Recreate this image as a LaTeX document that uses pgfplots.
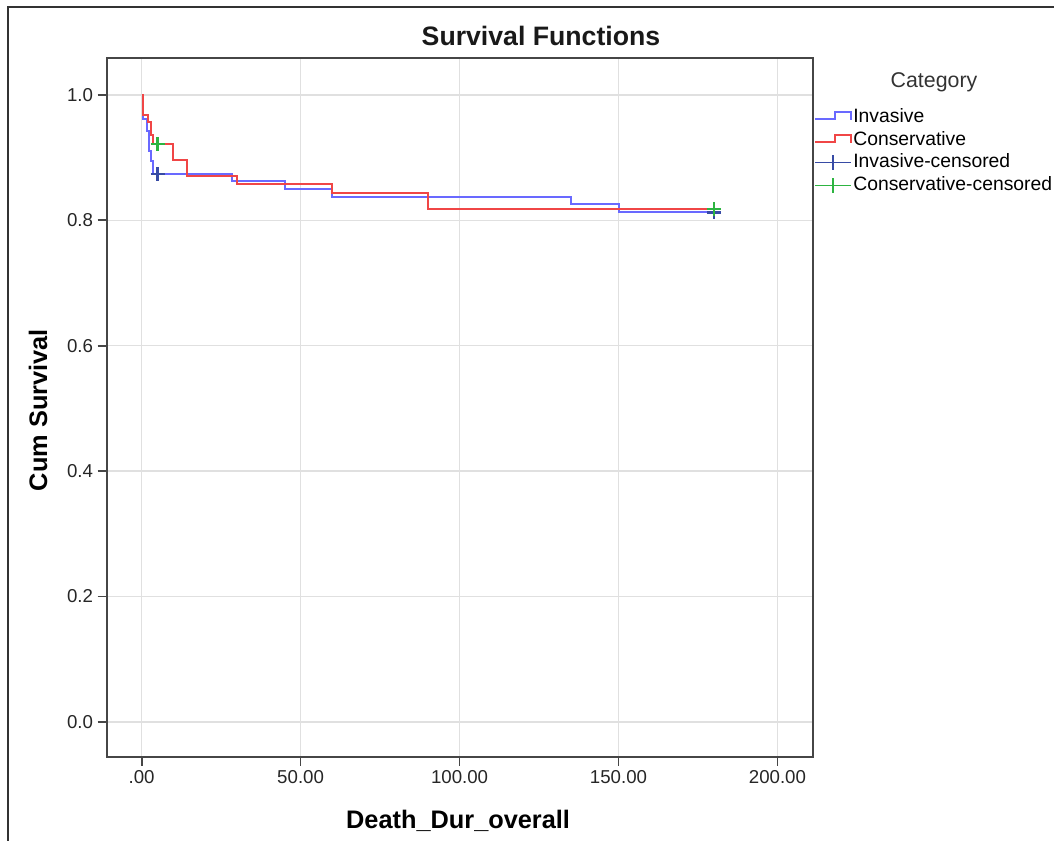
\documentclass[border=0pt]{standalone}
\usepackage{fontspec}
\setmainfont{Liberation Sans}
\usepackage{pgfplots}
\pgfplotsset{compat=1.18}

\definecolor{invline}{RGB}{105,105,255}
\definecolor{conline}{RGB}{240,70,70}
\definecolor{invcens}{RGB}{55,75,165}
\definecolor{concens}{RGB}{45,180,65}
\definecolor{frame}{RGB}{70,70,70}

\begin{document}
\begin{tikzpicture}
\useasboundingbox (-80.25pt,-63.2pt) rectangle (710.25pt,567.5pt);
% outer frame (left and top only, the rest is cut off)
\draw[black!80, line width=1.4pt] (-74.25pt,-63.2pt) -- (-74.25pt,562.3pt) -- (710.25pt,562.3pt);

\begin{axis}[
  at={(0,0)}, anchor=south west,
  scale only axis, width=529.3pt, height=523.8pt,
  xmin=-10.9, xmax=211.1, ymin=-0.0553, ymax=1.0585,
  xtick={0,50,100,150,200},
  xticklabels={.00,50.00,100.00,150.00,200.00},
  ytick={0,0.2,0.4,0.6,0.8,1.0},
  yticklabels={0.0,0.2,0.4,0.6,0.8,1.0},
  tick label style={font=\fontsize{14}{16}\selectfont, text=black!85},
  tick pos=left, tick align=outside, major tick length=7pt,
  tick style={draw=frame, line width=1.3pt},
  axis line style={draw=frame, line width=1.3pt},
  grid=major, major grid style={draw=black!12, line width=1pt},
  xlabel={Death\_Dur\_overall},
  ylabel={Cum Survival},
  label style={font=\fontsize{19}{22}\selectfont\bfseries},
  xlabel style={at={(axis description cs:0.4975,-0.1035)}, anchor=base},
  ylabel style={at={(axis description cs:-0.0978,0.496)}, anchor=center},
  legend style={at={(axis description cs:1.002,0.933)}, anchor=north west,
    draw=none, fill=none, inner xsep=0pt, inner ysep=0pt,
    font=\fontsize{14.5}{16}\selectfont, row sep=0pt,
    nodes={inner xsep=1pt, inner ysep=1.6pt, text depth=3pt, text height=11pt}},
  legend cell align=left,
  clip=false,
]
% Invasive
\addplot[forget plot, const plot, invline, line width=1.5pt] coordinates {
  (0,1.000) (0.5,0.962) (1.7,0.943) (2.3,0.910) (2.9,0.895) (3.5,0.874)
  (28.3,0.862) (45,0.850) (60,0.838) (135,0.826) (150,0.813) (180,0.813)};
% Conservative
\addplot[forget plot, const plot, conline, line width=1.5pt] coordinates {
  (0,1.000) (0.3,0.968) (1.9,0.957) (2.9,0.936) (3.5,0.922) (9.8,0.896)
  (14.3,0.870) (30,0.858) (60,0.843) (90,0.818) (180,0.818)};
% censored marks
\addplot[forget plot, only marks, mark=+, mark size=5.25pt, invcens,
  mark options={line width=2pt}]
  coordinates {(5,0.874) (180,0.813)};
\addplot[forget plot, only marks, mark=+, mark size=5.25pt, concens,
  mark options={line width=2pt}]
  coordinates {(5,0.922) (180,0.818)};

\addlegendimage{legend image code/.code={
  \draw[invline, line width=1.2pt] (0pt,-1.5pt) -- (15pt,-1.5pt) -- (15pt,3.5pt) -- (27pt,3.5pt) -- (27pt,-2.5pt);}}
\addlegendentry{Invasive}
\addlegendimage{legend image code/.code={
  \draw[conline, line width=1.2pt] (0pt,-1.5pt) -- (15pt,-1.5pt) -- (15pt,3.5pt) -- (27pt,3.5pt) -- (27pt,-2.5pt);}}
\addlegendentry{Conservative}
\addlegendimage{legend image code/.code={
  \draw[invcens, line width=1.2pt] (0pt,0pt) -- (27pt,0pt);
  \draw[invcens, line width=1.2pt] (13.5pt,-5.5pt) -- (13.5pt,5.5pt);}}
\addlegendentry{Invasive-censored}
\addlegendimage{legend image code/.code={
  \draw[concens, line width=1.2pt] (0pt,0pt) -- (27pt,0pt);
  \draw[concens, line width=1.2pt] (13.5pt,-5.5pt) -- (13.5pt,5.5pt);}}
\addlegendentry{Conservative-censored}
\end{axis}

\node[font=\fontsize{20}{24}\selectfont\bfseries, text=black!90] at (325.5pt,540.5pt) {Survival Functions};
\node[font=\fontsize{16}{19}\selectfont, text=black!80] at (620.25pt,506pt) {Category};
\end{tikzpicture}
\end{document}
